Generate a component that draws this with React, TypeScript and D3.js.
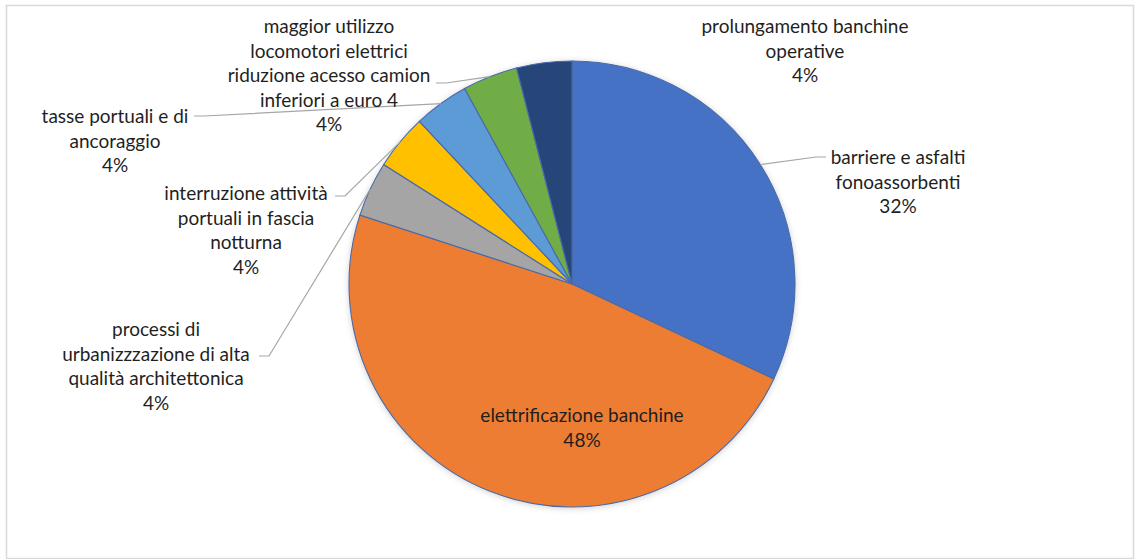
import React from "react";
import * as d3 from "d3";

const categories = [
  "barriere e asfalti fonoassorbenti",
  "elettrificazione banchine",
  "processi di urbanizzzazione di alta qualità architettonica",
  "interruzione attività portuali in fascia notturna",
  "tasse portuali e di ancoraggio",
  "maggior utilizzo locomotori elettrici riduzione acesso camion inferiori a euro 4",
  "prolungamento banchine operative",
];
const values = [32, 48, 4, 4, 4, 4, 4];
const percentLabels = ["32%", "48%", "4%", "4%", "4%", "4%", "4%"];
const labelLines = [
  ["barriere e asfalti", "fonoassorbenti"],
  ["elettrificazione banchine"],
  ["processi di", "urbanizzzazione di alta", "qualità architettonica"],
  ["interruzione attività", "portuali in fascia", "notturna"],
  ["tasse portuali e di", "ancoraggio"],
  ["maggior utilizzo", "locomotori elettrici", "riduzione acesso camion", "inferiori a euro 4"],
  ["prolungamento banchine", "operative"],
];
const colors = ["#4472C4", "#ED7D31", "#A5A5A5", "#FFC000", "#5B9BD5", "#70AD47", "#264478"];

// layout (label centre x, first line y, leader anchor)
const W = 1135;
const H = 559;
const CX = 572;
const CY = 284;
const R = 223;
const LH = 24.5;
const labelLayout = [
  { x: 898, y: 156, leader: [826, 157] },
  { x: 582, y: 414, leader: null },
  { x: 156, y: 328, leader: [259, 356] },
  { x: 246, y: 192, leader: [335, 196] },
  { x: 115, y: 115, leader: [194, 116] },
  { x: 329, y: 25, leader: [436, 83] },
  { x: 805, y: 25, leader: null },
];

export default function App() {
  const pie = d3.pie<number>().sort(null).value((d) => d)(values);
  const arc = d3.arc<d3.PieArcDatum<number>>().innerRadius(0).outerRadius(R);
  const font = "Lato, 'Open Sans', sans-serif";
  return (
    <svg
      width={W}
      height={H}
      style={{ position: "absolute", left: 0, top: 0, background: "#fff" }}
      fontFamily={font}
    >
      <defs>
        <filter id="sh" x="-10%" y="-10%" width="120%" height="120%">
          <feDropShadow dx="0" dy="1" stdDeviation="3" floodColor="#000" floodOpacity="0.18" />
        </filter>
      </defs>
      <rect x={6.5} y={5.5} width={1127} height={553} fill="#fff" stroke="#d9d9d9" strokeWidth={1.5} />
      <g transform={`translate(${CX},${CY})`} filter="url(#sh)">
        {pie.map((d, i) => (
          <path key={i} d={arc(d) || ""} fill={colors[i]} stroke="#4a6aa8" strokeWidth={1.1} />
        ))}
      </g>
      {pie.map((d, i) => {
        const L = labelLayout[i];
        if (!L.leader) return null;
        const mid = (d.startAngle + d.endAngle) / 2;
        const px = CX + R * Math.sin(mid);
        const py = CY - R * Math.cos(mid);
        const [lx, ly] = L.leader;
        const dir = lx < CX ? 1 : -1;
        const pts = [
          [lx, ly],
          [lx + dir * 10, ly],
          [px, py],
        ];
        return (
          <polyline
            key={"l" + i}
            points={pts.map((p) => p.join(",")).join(" ")}
            fill="none"
            stroke="#a6a6a6"
            strokeWidth={1.2}
          />
        );
      })}
      {labelLines.map((lines, i) => {
        const L = labelLayout[i];
        const all = [...lines, percentLabels[i]];
        return (
          <text
            key={"t" + i}
            textAnchor="middle"
            fontSize={19}
            fill="#1f1f1f"
            dominantBaseline="central"
          >
            {all.map((s, j) => (
              <tspan key={j} x={L.x} y={L.y + j * LH}>
                {s}
              </tspan>
            ))}
          </text>
        );
      })}
    </svg>
  );
}
